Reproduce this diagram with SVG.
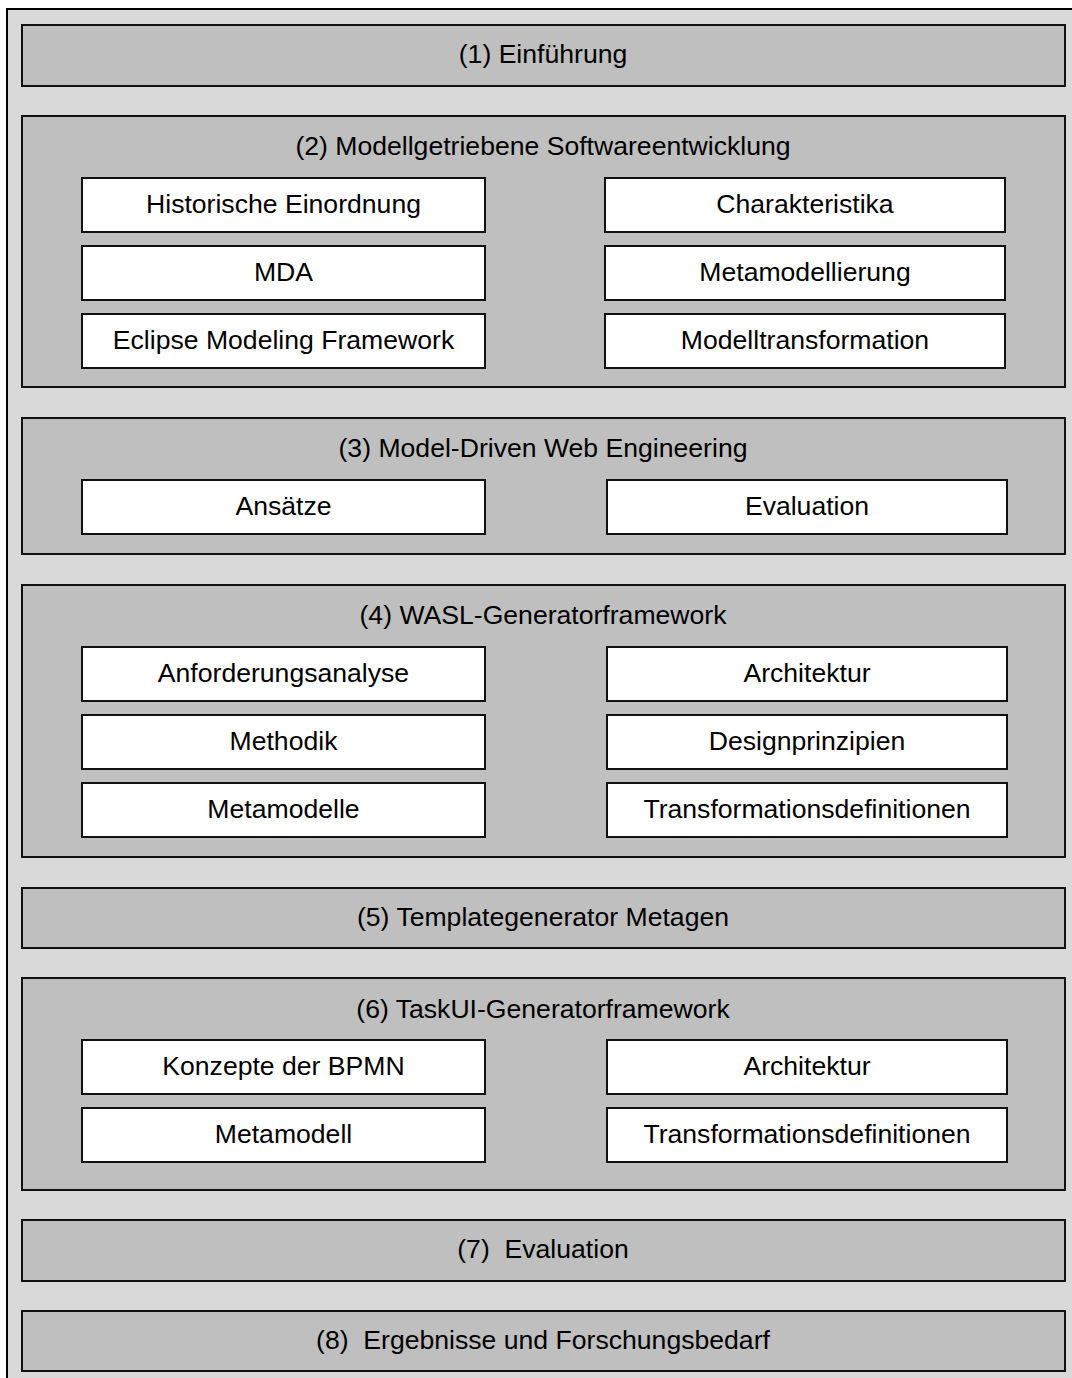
<svg xmlns="http://www.w3.org/2000/svg" width="1072" height="1378" viewBox="0 0 1072 1378">
  <style>
    .frame { fill: #d9d9d9; stroke: #000; stroke-width: 2; }
    .sec { fill: #bfbfbf; stroke: #111; stroke-width: 2; }
    .item { fill: #fff; stroke: #111; stroke-width: 2; }
    text { font-family: "Liberation Sans", Arial, sans-serif; font-size: 26.6px; fill: #000; text-anchor: middle; dominant-baseline: central; white-space: pre; }
  </style>
  <rect width="1072" height="1378" fill="#fff"/>
  <rect class="frame" x="7" y="9" width="1080" height="1390"/>

  <g id="s1">
    <rect class="sec" x="22" y="25" width="1043" height="61"/>
    <text x="543" y="54">(1) Einführung</text>
  </g>

  <g id="s2">
    <rect class="sec" x="22" y="116" width="1043" height="271"/>
    <text x="543" y="146">(2) Modellgetriebene Softwareentwicklung</text>
    <g id="s2a"><rect class="item" x="82" y="178" width="403" height="54"/><text x="283.5" y="204">Historische Einordnung</text></g>
    <g id="s2b"><rect class="item" x="605" y="178" width="400" height="54"/><text x="805" y="204">Charakteristika</text></g>
    <g id="s2c"><rect class="item" x="82" y="246" width="403" height="54"/><text x="283.5" y="272">MDA</text></g>
    <g id="s2d"><rect class="item" x="605" y="246" width="400" height="54"/><text x="805" y="272">Metamodellierung</text></g>
    <g id="s2e"><rect class="item" x="82" y="314" width="403" height="54"/><text x="283.5" y="340">Eclipse Modeling Framework</text></g>
    <g id="s2f"><rect class="item" x="605" y="314" width="400" height="54"/><text x="805" y="340">Modelltransformation</text></g>
  </g>

  <g id="s3">
    <rect class="sec" x="22" y="418" width="1043" height="136"/>
    <text x="543" y="448">(3) Model-Driven Web Engineering</text>
    <g id="s3a"><rect class="item" x="82" y="480" width="403" height="54"/><text x="283.5" y="506">Ansätze</text></g>
    <g id="s3b"><rect class="item" x="607" y="480" width="400" height="54"/><text x="807" y="506">Evaluation</text></g>
  </g>

  <g id="s4">
    <rect class="sec" x="22" y="585" width="1043" height="272"/>
    <text x="543" y="615">(4) WASL-Generatorframework</text>
    <g id="s4a"><rect class="item" x="82" y="647" width="403" height="54"/><text x="283.5" y="673">Anforderungsanalyse</text></g>
    <g id="s4b"><rect class="item" x="607" y="647" width="400" height="54"/><text x="807" y="673">Architektur</text></g>
    <g id="s4c"><rect class="item" x="82" y="715" width="403" height="54"/><text x="283.5" y="741">Methodik</text></g>
    <g id="s4d"><rect class="item" x="607" y="715" width="400" height="54"/><text x="807" y="741">Designprinzipien</text></g>
    <g id="s4e"><rect class="item" x="82" y="783" width="403" height="54"/><text x="283.5" y="809">Metamodelle</text></g>
    <g id="s4f"><rect class="item" x="607" y="783" width="400" height="54"/><text x="807" y="809">Transformationsdefinitionen</text></g>
  </g>

  <g id="s5">
    <rect class="sec" x="22" y="888" width="1043" height="60"/>
    <text x="543" y="917">(5) Templategenerator Metagen</text>
  </g>

  <g id="s6">
    <rect class="sec" x="22" y="978" width="1043" height="212"/>
    <text x="543" y="1009">(6) TaskUI-Generatorframework</text>
    <g id="s6a"><rect class="item" x="82" y="1040" width="403" height="54"/><text x="283.5" y="1066">Konzepte der BPMN</text></g>
    <g id="s6b"><rect class="item" x="607" y="1040" width="400" height="54"/><text x="807" y="1066">Architektur</text></g>
    <g id="s6c"><rect class="item" x="82" y="1108" width="403" height="54"/><text x="283.5" y="1134">Metamodell</text></g>
    <g id="s6d"><rect class="item" x="607" y="1108" width="400" height="54"/><text x="807" y="1134">Transformationsdefinitionen</text></g>
  </g>

  <g id="s7">
    <rect class="sec" x="22" y="1220" width="1043" height="61"/>
    <text x="543" y="1249">(7)  Evaluation</text>
  </g>

  <g id="s8">
    <rect class="sec" x="22" y="1311" width="1043" height="60"/>
    <text x="543" y="1340">(8)  Ergebnisse und Forschungsbedarf</text>
  </g>

  <g id="connectors"/>
</svg>
